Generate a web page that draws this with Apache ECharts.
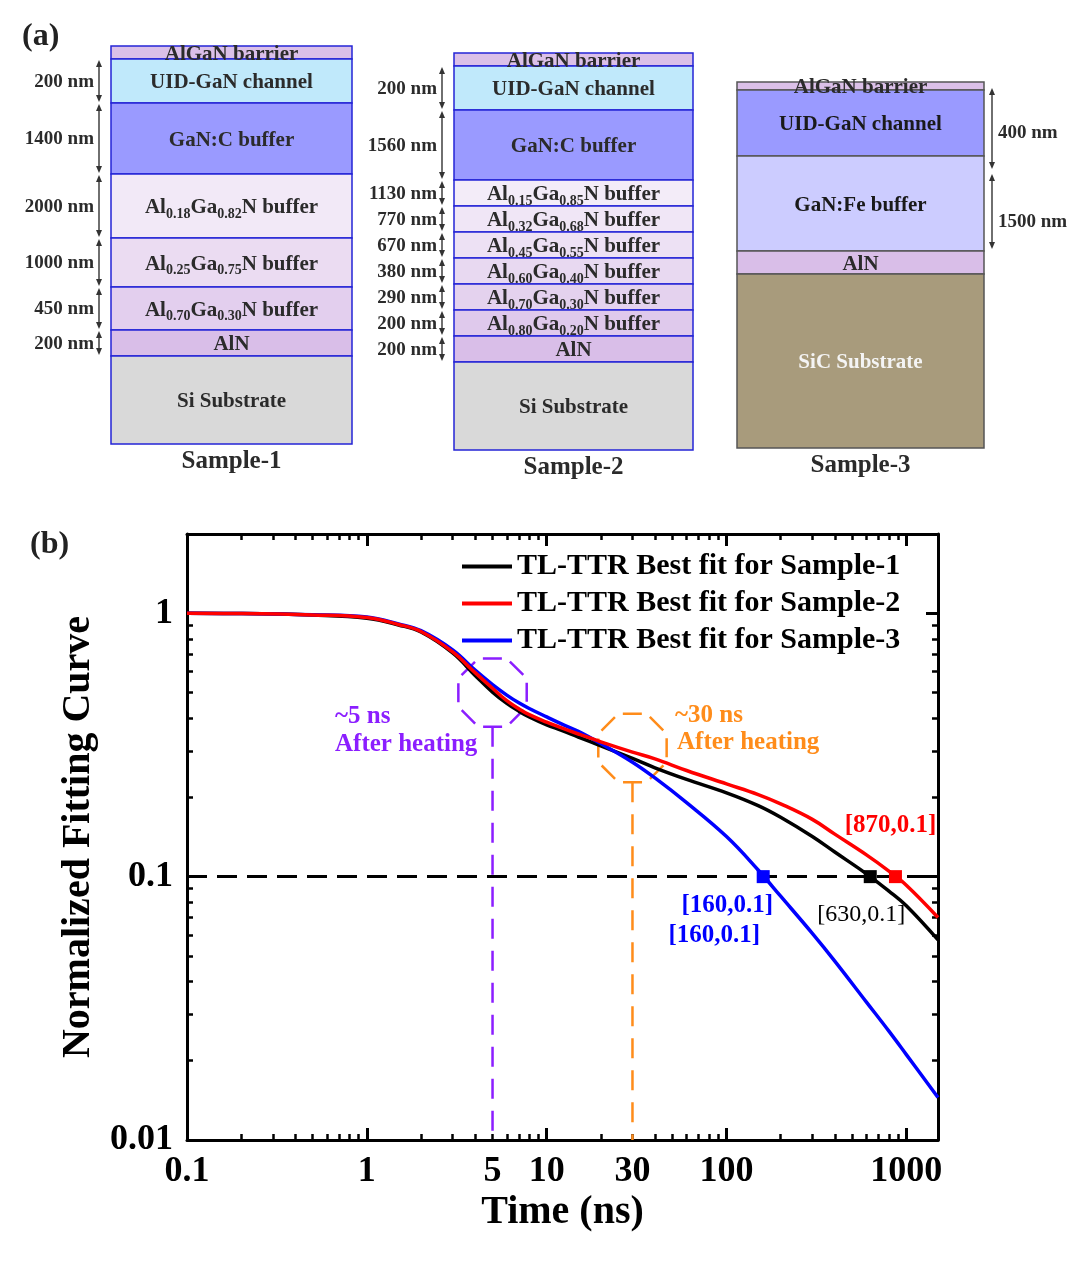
<!DOCTYPE html>
<html>
<head>
<meta charset="utf-8">
<script src="https://cdn.jsdelivr.net/npm/echarts@6/dist/echarts.min.js"></script>
<style>html,body{margin:0;padding:0;background:#fff}#main{width:1080px;height:1272px}</style>
</head>
<body>
<div id="main"></div>
<script>
var FONT = '"Times New Roman","Liberation Serif",serif';

// ---- (a) layer stacks (top to bottom), drawn heights are schematic units ----
var s1Layers = ['AlGaN barrier', 'UID-GaN channel', 'GaN:C buffer', 'Al_{0.18}Ga_{0.82}N buffer', 'Al_{0.25}Ga_{0.75}N buffer', 'Al_{0.70}Ga_{0.30}N buffer', 'AlN', 'Si Substrate'];
var s1Drawn = [13, 44, 71, 64, 49, 43, 26, 88];
var s1Thick = [null, '200 nm', '1400 nm', '2000 nm', '1000 nm', '450 nm', '200 nm', null];

var s2Layers = ['AlGaN barrier', 'UID-GaN channel', 'GaN:C buffer', 'Al_{0.15}Ga_{0.85}N buffer', 'Al_{0.32}Ga_{0.68}N buffer', 'Al_{0.45}Ga_{0.55}N buffer', 'Al_{0.60}Ga_{0.40}N buffer', 'Al_{0.70}Ga_{0.30}N buffer', 'Al_{0.80}Ga_{0.20}N buffer', 'AlN', 'Si Substrate'];
var s2Drawn = [13, 44, 70, 26, 26, 26, 26, 26, 26, 26, 88];
var s2Thick = [null, '200 nm', '1560 nm', '1130 nm', '770 nm', '670 nm', '380 nm', '290 nm', '200 nm', '200 nm', null];

var s3Layers = ['AlGaN barrier', 'UID-GaN channel', 'GaN:Fe buffer', 'AlN', 'SiC Substrate'];
var s3Drawn = [8, 66, 95, 23, 174];
var s3Thick = ['400 nm', '1500 nm'];
var s3ThickSpan = [[5, 88], [91, 168]];

var sampleNames = ['Sample-1', 'Sample-2', 'Sample-3'];

// layer colours
var s1Fill = ['#dbc0e8', '#c0e9fb', '#9a9aff', '#f2e9f7', '#ebdcf2', '#e3cfee', '#d9bee8', '#d9d9d9'];
var s2Fill = ['#dbc0e8', '#c0e9fb', '#9a9aff', '#f3ecf8', '#f0e6f6', '#ede1f4', '#e8d9f1', '#e4d2ee', '#dfc9ec', '#d9bee8', '#d9d9d9'];
var s3Fill = ['#dbc0e8', '#9a9aff', '#ccccff', '#d9bee8', '#a89b7c'];
var s3Text = ['#2b2b2b', '#1a1a1a', '#1a1a1a', '#2b2b2b', '#f4f4f4'];

// ---- (b) fitting curves ----
var times = [0.1, 0.2, 0.5, 1, 1.5, 2, 3, 4, 5, 6, 7, 8, 10, 12, 15, 20, 30, 40, 60, 100, 150, 200, 300, 400, 600, 800, 1000, 1500];
var fit1 = [1.0, 0.998, 0.985, 0.958, 0.903, 0.849, 0.707, 0.581, 0.502, 0.455, 0.425, 0.404, 0.377, 0.36, 0.339, 0.314, 0.281, 0.259, 0.234, 0.208, 0.186, 0.168, 0.142, 0.124, 0.1025, 0.0881, 0.0775, 0.0575];
var fit2 = [1.0, 0.998, 0.986, 0.964, 0.907, 0.853, 0.714, 0.595, 0.519, 0.466, 0.434, 0.412, 0.386, 0.368, 0.348, 0.325, 0.297, 0.28, 0.253, 0.225, 0.205, 0.189, 0.165, 0.145, 0.121, 0.105, 0.0928, 0.07];
var fit3 = [1.0, 0.998, 0.987, 0.968, 0.911, 0.859, 0.726, 0.608, 0.536, 0.489, 0.457, 0.435, 0.404, 0.381, 0.356, 0.32, 0.272, 0.237, 0.191, 0.142, 0.106, 0.0843, 0.0609, 0.0478, 0.0334, 0.0259, 0.0211, 0.0145];
var seriesNames = ['TL-TTR Best fit for Sample-1', 'TL-TTR Best fit for Sample-2', 'TL-TTR Best fit for Sample-3'];
var crossT = [630, 870, 160];
var crossLabels = ['[630,0.1]', '[870,0.1]', '[160,0.1]'];
var heatTimes = [5, 30];
var heatAnchor = [0.5, 0.308];
var heatText = [['~5 ns', 'After heating'], ['~30 ns', 'After heating']];

var xMajor = [0.1, 1, 10, 100, 1000];
var xLabels = [0.1, 1, 5, 10, 30, 100, 1000];
var yMajor = [0.01, 0.1, 1];
var mult = [2, 3, 4, 5, 6, 7, 8, 9];
var xMinor = [], yMinor = [];
xMajor.forEach(function (d) { mult.forEach(function (m) { if (d * m <= 1500) xMinor.push(d * m); }); });
yMajor.forEach(function (d) { mult.forEach(function (m) { if (d * m <= 2) yMinor.push(d * m); }); });

function spans(drawn) {
  var out = [], acc = 0;
  drawn.forEach(function (h) { out.push([0, acc, acc + h]); acc += h; });
  return out;
}
function total(drawn) { return drawn.reduce(function (a, b) { return a + b; }, 0); }
function toRich(name) { return name.replace(/_\{([^}]*)\}/g, '{s|$1}'); }

function layerRender(names, fills, stroke, textFills) {
  return function (params, api) {
    var i = params.dataIndex;
    var a = api.coord([0, api.value(1)]);
    var b = api.coord([1, api.value(2)]);
    var tf = textFills ? textFills[i] : '#2b2b2b';
    return {
      type: 'group',
      children: [
        { type: 'rect', z2: 1, shape: { x: a[0], y: a[1], width: b[0] - a[0], height: b[1] - a[1] },
          style: { fill: fills[i], stroke: stroke, lineWidth: 1.5 } },
        { type: 'text', z2: 20, x: (a[0] + b[0]) / 2, y: (a[1] + b[1]) / 2 + 2,
          style: { text: toRich(names[i]), fill: tf, fontSize: 21, fontWeight: 'bold', fontFamily: FONT,
            align: 'center', verticalAlign: 'middle', lineHeight: 26,
            rich: { s: { fontSize: 14, fontWeight: 'bold', fontFamily: FONT, fill: tf, verticalAlign: 'bottom', lineHeight: 14 } } } }
      ]
    };
  };
}

function dimRender(labels, side, shift) {
  return function (params, api) {
    var xv = side < 0 ? 0 : 1;
    var a = api.coord([xv, api.value(1)]);
    var b = api.coord([xv, api.value(2)]);
    var x = a[0] + (side < 0 ? -12 : 8);
    var top = a[1] + 1, bot = b[1] - 1, mid = (a[1] + b[1]) / 2 + (shift ? shift[params.dataIndex] : 0);
    return {
      type: 'group',
      children: [
        { type: 'line', shape: { x1: x, y1: top + 5, x2: x, y2: bot - 5 }, style: { stroke: '#333', lineWidth: 1.4 } },
        { type: 'polygon', shape: { points: [[x, top], [x - 3, top + 7], [x + 3, top + 7]] }, style: { fill: '#333' } },
        { type: 'polygon', shape: { points: [[x, bot], [x - 3, bot - 7], [x + 3, bot - 7]] }, style: { fill: '#333' } },
        { type: 'text', x: x + (side < 0 ? -5 : 6), y: mid + 1,
          style: { text: labels[params.dataIndex], fill: '#2b2b2b', fontSize: 19, fontWeight: 'bold', fontFamily: FONT,
            align: side < 0 ? 'right' : 'left', verticalAlign: 'middle' } }
      ]
    };
  };
}

function dimsFromLayers(drawn, thick) {
  var sp = spans(drawn), data = [], labels = [];
  thick.forEach(function (t, i) {
    if (t) { data.push([0, sp[i][1], sp[i][2]]); labels.push(t); }
  });
  return { data: data, labels: labels };
}

var d1 = dimsFromLayers(s1Drawn, s1Thick);
var d2 = dimsFromLayers(s2Drawn, s2Thick);
var d3 = { data: s3ThickSpan.map(function (s) { return [1, s[0], s[1]]; }), labels: s3Thick };

var sampleGrids = [
  { left: 111, top: 46, width: 241, height: 398 },
  { left: 454, top: 53, width: 239, height: 397 },
  { left: 737, top: 82, width: 247, height: 366 }
];
var stacks = [s1Drawn, s2Drawn, s3Drawn];

var grids = sampleGrids.map(function (g) { g.outerBoundsMode = 'none'; return g; });
grids.push({ left: 187, right: 142, top: 534, bottom: 132, outerBoundsMode: 'none' });

var xAxes = [], yAxes = [];
stacks.forEach(function (drawn, i) {
  xAxes.push({ gridIndex: i, type: 'value', min: 0, max: 1, show: true,
    axisLine: { show: false }, axisTick: { show: false }, axisLabel: { show: false }, splitLine: { show: false },
    name: sampleNames[i], nameLocation: 'middle', nameGap: 5,
    nameTextStyle: { fontSize: 25, fontWeight: 'bold', fontFamily: FONT, color: '#2b2b2b' } });
  yAxes.push({ gridIndex: i, type: 'value', min: 0, max: total(drawn), inverse: true, show: false });
});

function lbl(v) { return String(+(+v).toPrecision(6)); }
function chartAxis(dim, pos, ticks, len, lw, showLine, labels, name) {
  var ax = {
    gridIndex: 3, type: 'log', logBase: 10, position: pos,
    min: dim === 'x' ? 0.1 : 0.01, max: dim === 'x' ? 1500 : 2,
    axisLine: { show: showLine, onZero: false, lineStyle: { color: '#000', width: 3 } },
    axisTick: { show: true, inside: true, length: len, customValues: ticks, lineStyle: { color: '#000', width: lw } },
    axisLabel: { show: false },
    minorTick: { show: false }, splitLine: { show: false }
  };
  if (labels) {
    ax.axisLabel = { show: true, customValues: labels, formatter: lbl, color: '#000', fontSize: 36, fontWeight: 'bold',
      fontFamily: FONT, margin: 14, padding: dim === 'x' ? 0 : [7, 0, 0, 0] };
  }
  if (name) {
    ax.name = name;
    ax.nameLocation = 'middle';
    ax.nameGap = dim === 'x' ? 53 : 77;
    ax.nameTextStyle = { fontSize: 40, fontWeight: 'bold', fontFamily: FONT, color: '#000' };
  }
  return ax;
}
xAxes.push(chartAxis('x', 'bottom', xMajor, 12, 3, true, xLabels, 'Time (ns)'));
xAxes.push(chartAxis('x', 'top', xMajor, 12, 3, true, null));
xAxes.push(chartAxis('x', 'bottom', xMinor, 6, 2.5, false, null));
xAxes.push(chartAxis('x', 'top', xMinor, 6, 2.5, false, null));
yAxes.push(chartAxis('y', 'left', yMajor, 12, 3, true, yMajor, 'Normalized Fitting Curve'));
yAxes.push(chartAxis('y', 'right', yMajor, 12, 3, true, null));
yAxes.push(chartAxis('y', 'left', yMinor, 6, 2.5, false, null));
yAxes.push(chartAxis('y', 'right', yMinor, 6, 2.5, false, null));

var series = [
  { type: 'custom', xAxisIndex: 0, yAxisIndex: 0, encode: { x: 0, y: [1, 2] }, data: spans(s1Drawn),
    renderItem: layerRender(s1Layers, s1Fill, '#2424d6', null) },
  { type: 'custom', xAxisIndex: 0, yAxisIndex: 0, encode: { x: 0, y: [1, 2] }, data: d1.data,
    renderItem: dimRender(d1.labels, -1) },
  { type: 'custom', xAxisIndex: 1, yAxisIndex: 1, encode: { x: 0, y: [1, 2] }, data: spans(s2Drawn),
    renderItem: layerRender(s2Layers, s2Fill, '#2424d6', null) },
  { type: 'custom', xAxisIndex: 1, yAxisIndex: 1, encode: { x: 0, y: [1, 2] }, data: d2.data,
    renderItem: dimRender(d2.labels, -1) },
  { type: 'custom', xAxisIndex: 2, yAxisIndex: 2, encode: { x: 0, y: [1, 2] }, data: spans(s3Drawn),
    renderItem: layerRender(s3Layers, s3Fill, '#555555', s3Text) },
  { type: 'custom', xAxisIndex: 2, yAxisIndex: 2, encode: { x: 0, y: [1, 2] }, data: d3.data,
    renderItem: dimRender(d3.labels, 1, [4, 10]) },
  { type: 'custom', xAxisIndex: 3, yAxisIndex: 3, silent: true,
    data: heatTimes.map(function (t, i) { return [t, heatAnchor[i]]; }),
    renderItem: function (params, api) {
      var col = ['#8b1eff', '#ff8c1a'][params.dataIndex];
      var c = api.coord([api.value(0), api.value(1)]);
      var base = api.coord([api.value(0), 0.01]);
      var r = 37, pts = [];
      for (var k = 0; k < 8; k++) {
        var ang = Math.PI / 8 + k * Math.PI / 4;
        pts.push([c[0] + r * Math.cos(ang), c[1] + r * Math.sin(ang)]);
      }
      var bottom = c[1] + r * Math.cos(Math.PI / 8);
      return { type: 'group', children: [
        { type: 'polygon', shape: { points: pts }, style: { fill: 'none', stroke: col, lineWidth: 2.5, lineDash: [19, 9.3], lineDashOffset: -4.6 } },
        { type: 'line', shape: { x1: c[0], y1: bottom, x2: c[0], y2: base[1] }, style: { stroke: col, lineWidth: 2.5, lineDash: [20, 12] } }
      ] };
    } }
];

var fits = [fit1, fit2, fit3];
var lineColors = ['#000000', '#ff0000', '#0000ff'];
var markOffsets = [[[-9, 38]], [[-5, -51]], [[-36, 29], [-49, 59]]];
var markWeight = ['normal', 'bold', 'bold'];
var drawOrder = [0, 2, 1];
drawOrder.forEach(function (k) {
  var mp = [{ coord: [crossT[k], 0.1], symbol: 'rect', symbolSize: 13, itemStyle: { color: lineColors[k] },
    label: { show: true, formatter: crossLabels[k], offset: markOffsets[k][0] } }];
  if (markOffsets[k][1]) {
    mp.push({ coord: [crossT[k], 0.1], symbol: 'rect', symbolSize: 1, itemStyle: { color: 'rgba(0,0,0,0)' },
      label: { show: true, formatter: crossLabels[k], offset: markOffsets[k][1] } });
  }
  var s = {
    type: 'line', name: seriesNames[k], xAxisIndex: 3, yAxisIndex: 3, color: lineColors[k],
    data: times.map(function (t, i) { return [t, fits[k][i]]; }),
    showSymbol: false, smooth: 0.4, lineStyle: { width: 3.5, color: lineColors[k] },
    z: 3,
    markPoint: { silent: true, z: 6, data: mp,
      label: { color: lineColors[k], fontSize: k === 0 ? 24 : 25, fontWeight: markWeight[k], fontFamily: FONT } }
  };
  if (k === 0) {
    s.markLine = { silent: true, symbol: ['none', 'none'], label: { show: false },
      lineStyle: { color: '#000', width: 3, type: [20, 10] }, data: [{ yAxis: 0.1 }] };
  }
  series.push(s);
});

var graphics = [
  { type: 'text', left: 22, top: 21, style: { text: '(a)', fill: '#222', font: 'bold 32px ' + FONT } },
  { type: 'text', left: 30, top: 529, style: { text: '(b)', fill: '#222', font: 'bold 32px ' + FONT } },
  { type: 'text', left: 335, top: 704, style: { text: heatText[0][0], fill: '#8b1eff', font: 'bold 25px ' + FONT } },
  { type: 'text', left: 335, top: 732, style: { text: heatText[0][1], fill: '#8b1eff', font: 'bold 25px ' + FONT } },
  { type: 'text', left: 675, top: 703, style: { text: heatText[1][0], fill: '#ff8c1a', font: 'bold 25px ' + FONT } },
  { type: 'text', left: 677, top: 730, style: { text: heatText[1][1], fill: '#ff8c1a', font: 'bold 25px ' + FONT } }
];

var chart = echarts.init(document.getElementById('main'));
chart.setOption({
  animation: false,
  backgroundColor: '#fff',
  grid: grids,
  xAxis: xAxes,
  yAxis: yAxes,
  legend: {
    data: seriesNames, orient: 'vertical', left: 457, top: 543, itemGap: 0,
    icon: 'rect', itemWidth: 50, itemHeight: 4, selectedMode: false,
    textStyle: { fontSize: 30, fontWeight: 'bold', fontFamily: FONT, color: '#000', lineHeight: 37 }
  },
  graphic: graphics,
  series: series
});
</script>
</body>
</html>
